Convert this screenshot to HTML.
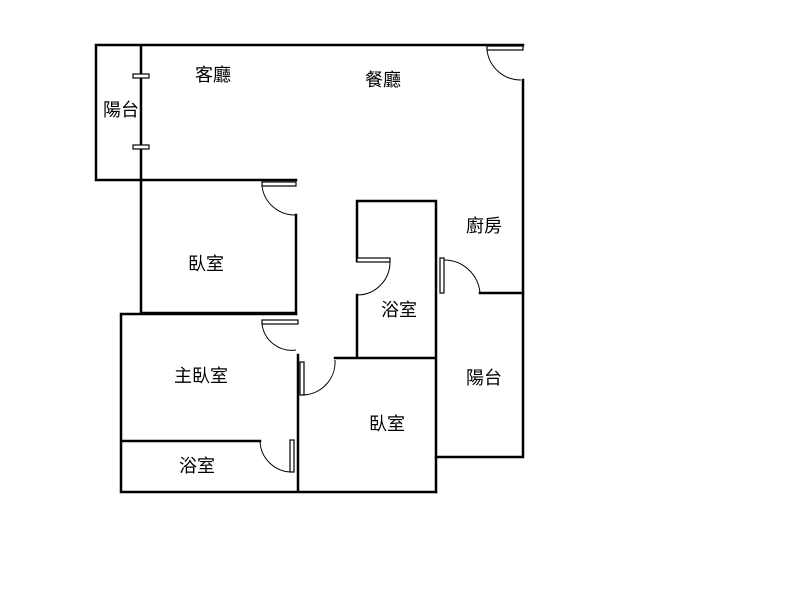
<!DOCTYPE html>
<html><head><meta charset="utf-8"><style>
html,body{margin:0;padding:0;background:#fff;width:800px;height:600px;overflow:hidden}
svg text{font-family:"Liberation Sans","Noto Sans CJK TC",sans-serif;font-size:18px;fill:#000;text-anchor:middle;dominant-baseline:central}
</style></head><body>
<svg width="800" height="600" viewBox="0 0 800 600">
<g stroke="#000" stroke-width="2.5" fill="none" stroke-linecap="square">
<path d="M96 45H523M96 45V180H296M141 45V313H296M296 215V313"/>
<path d="M523 80V457H436M121 314H296M121 314V492H436M121 441H260M298 355V492"/>
<path d="M335 358H436M357 201H436M357 201V261M357 295V358M436 201V492M480 293H523"/>
</g>
<g stroke="#000" stroke-width="1.2" fill="#fff">
<rect x="133" y="74" width="16" height="4"/>
<rect x="133" y="145" width="16" height="4"/>
<rect x="487" y="46" width="36" height="4"/>
<rect x="262" y="182" width="34" height="4"/>
<rect x="262" y="320" width="36" height="4"/>
<rect x="290" y="440" width="4" height="32"/>
<rect x="300" y="362" width="4" height="33"/>
<rect x="357" y="258" width="33" height="4"/>
<rect x="440" y="258" width="4" height="35"/>
</g>
<g stroke="#000" stroke-width="1" fill="none">
<path d="M487 50A34 34 0 0 0 521 80"/>
<path d="M262 186A33 33 0 0 0 295 215"/>
<path d="M262 324A30 30 0 0 0 296 350"/>
<path d="M260 441A32 32 0 0 0 292 472"/>
<path d="M302 395A33 33 0 0 0 335 360"/>
<path d="M390 262A33 33 0 0 1 357 295"/>
<path d="M444 260A36 36 0 0 1 480 293"/>
</g>
<text x="213" y="75">客廳</text>
<text x="383" y="80">餐廳</text>
<text x="121" y="110">陽台</text>
<text x="484" y="226">廚房</text>
<text x="206" y="264">臥室</text>
<text x="399" y="310">浴室</text>
<text x="484" y="378">陽台</text>
<text x="201" y="376">主臥室</text>
<text x="387" y="424">臥室</text>
<text x="197" y="466">浴室</text>
</svg>
</body></html>
